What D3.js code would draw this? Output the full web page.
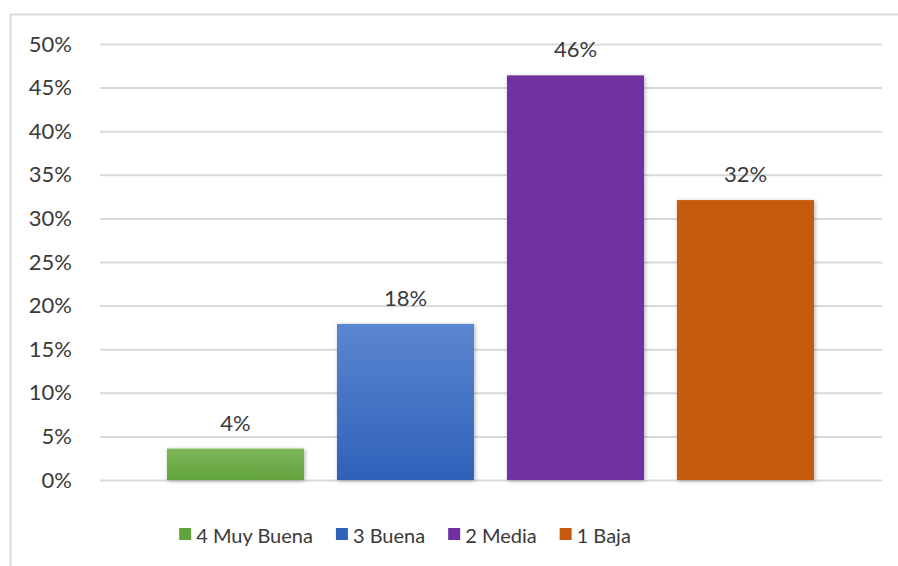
<!DOCTYPE html>
<html>
<head>
<meta charset="utf-8">
<script src="https://cdn.jsdelivr.net/npm/d3@7"></script>
<style>
  body { margin: 0; background: #fff; }
  text { font-family: Lato, "Open Sans", sans-serif; fill: #3a3a3a; }
</style>
</head>
<body>
<svg id="chart" width="898" height="566"></svg>
<script>
  var categories = ['4 Muy Buena', '3 Buena', '2 Media', '1 Baja']
  var values = [3.6, 17.9, 46.4, 32.1]
  var labels = ['4%', '18%', '46%', '32%']
  var yTicks = [0, 5, 10, 15, 20, 25, 30, 35, 40, 45, 50]
  var colorsTop = ['#7db75a', '#5b86d0', '#7030a0', '#c55a11']
  var colorsBottom = ['#62a33d', '#2f61b9', '#7030a0', '#c55a11']

  var svg = d3.select('#chart')

  // chart frame (cropped on the right and bottom)
  svg.append('rect')
    .attr('x', 10.5).attr('y', 14.5)
    .attr('width', 900).attr('height', 600)
    .style('fill', 'none')
    .style('stroke', '#d9d9d9')
    .style('stroke-width', 2)

  var defs = svg.append('defs')
  colorsTop.forEach(function(c, i){
    var g = defs.append('linearGradient')
      .attr('id', 'grad' + i)
      .attr('x1', 0).attr('x2', 0).attr('y1', 0).attr('y2', 1)
    g.append('stop').attr('offset', '0%').attr('stop-color', c)
    g.append('stop').attr('offset', '100%').attr('stop-color', colorsBottom[i])
  })
  var shadow = defs.append('filter').attr('id', 'shadow')
    .attr('x', '-10%').attr('y', '-10%').attr('width', '120%').attr('height', '120%')
  shadow.append('feDropShadow')
    .attr('dx', 1).attr('dy', 1).attr('stdDeviation', 2)
    .attr('flood-color', '#000').attr('flood-opacity', 0.3)

  var y = d3.scaleLinear().domain([0, 50]).range([480, 44])
  var x = d3.scaleBand()
    .domain(categories)
    .range([150.5, 830.5])
    .paddingInner(0.194)
    .paddingOuter(0.097)

  // gridlines + tick labels
  var yAxis = d3.axisLeft(y)
    .tickValues(yTicks)
    .tickSize(-782)
    .tickPadding(28)
    .tickFormat(function(d){ return d + '%' })

  var axisG = svg.append('g')
    .attr('transform', 'translate(100,0)')
    .call(yAxis)
  axisG.select('.domain').remove()
  axisG.selectAll('line')
    .attr('x1', 0).attr('x2', 782)
    .style('stroke', '#d9d9d9')
    .style('stroke-width', 2)
  axisG.selectAll('text')
    .style('font-size', '22px')
    .style('font-family', 'Lato, sans-serif')
    .style('fill', '#3a3a3a')

  // bars
  svg.selectAll('.bar')
    .data(values)
    .enter().append('rect')
    .attr('class', 'bar')
    .attr('x', function(d, i){ return x(categories[i]) })
    .attr('y', function(d){ return y(d) })
    .attr('width', x.bandwidth())
    .attr('height', function(d){ return y(0) - y(d) })
    .style('fill', function(d, i){ return 'url(#grad' + i + ')' })
    .attr('filter', 'url(#shadow)')

  // data labels
  svg.selectAll('.lbl')
    .data(values)
    .enter().append('text')
    .attr('class', 'lbl')
    .attr('x', function(d, i){ return x(categories[i]) + x.bandwidth() / 2 })
    .attr('y', function(d){ return y(d) - 18 })
    .attr('text-anchor', 'middle')
    .style('font-size', '22px')
    .text(function(d, i){ return labels[i] })

  // legend
  var legend = svg.append('g')
  var lx = 0
  categories.forEach(function(c, i){
    var item = legend.append('g').attr('transform', 'translate(' + lx + ',0)')
    item.append('rect')
      .attr('x', 0).attr('y', 528)
      .attr('width', 12).attr('height', 12)
      .style('fill', colorsBottom[i])
    var t = item.append('text')
      .attr('x', 17).attr('y', 543)
      .style('font-size', '20px')
      .text(c)
    lx += 17 + t.node().getComputedTextLength() + 23
  })
  var total = lx - 23
  legend.attr('transform', 'translate(' + (405 - total / 2) + ',0)')
</script>
</body>
</html>
